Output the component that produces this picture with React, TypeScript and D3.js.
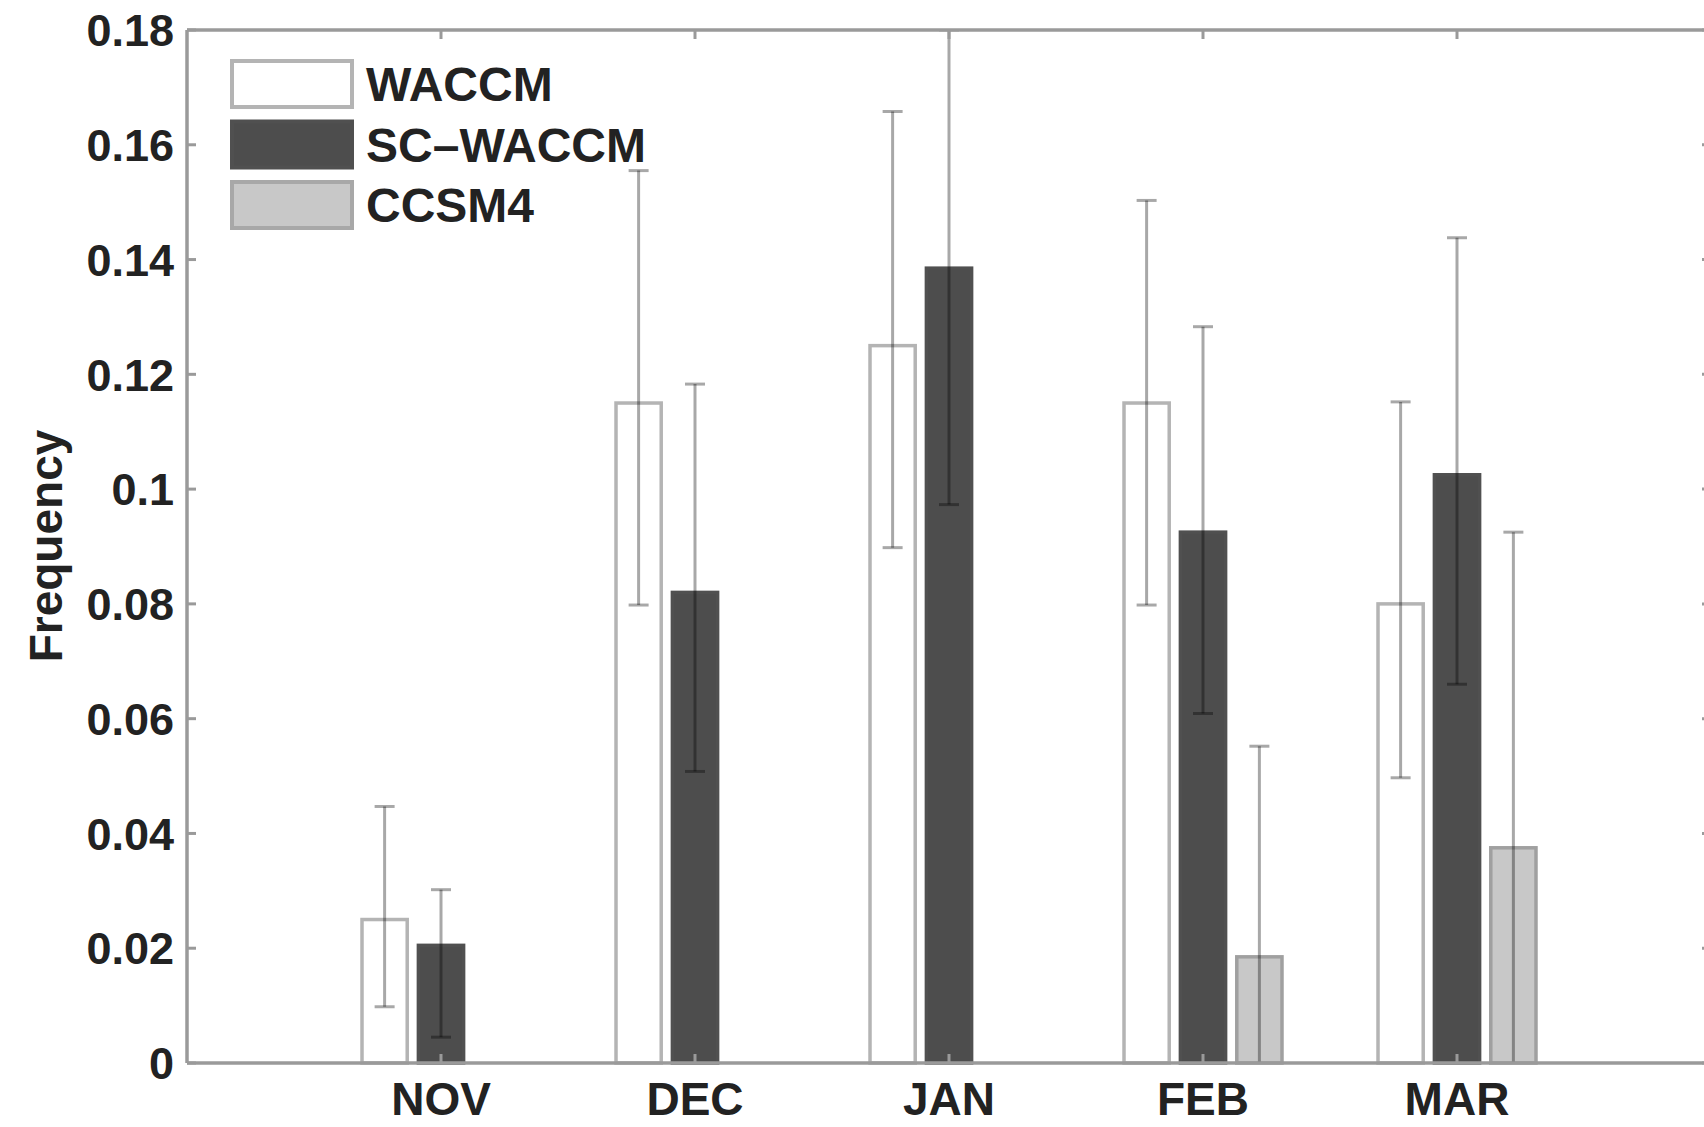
import React from "react";
import * as d3 from "d3";

const months = ["NOV", "DEC", "JAN", "FEB", "MAR"];
const seriesNames = ["WACCM", "SC\u2013WACCM", "CCSM4"];

const waccm = [0.025, 0.115, 0.125, 0.115, 0.08];
const scWaccm = [0.0205, 0.082, 0.1385, 0.0925, 0.1025];
const ccsm4 = [0, 0, 0, 0.0185, 0.0375];

const waccmLow = [0.0098, 0.0798, 0.0898, 0.0798, 0.0497];
const waccmHigh = [0.0447, 0.1555, 0.1658, 0.1503, 0.1152];
const scLow = [0.0045, 0.0508, 0.0973, 0.0609, 0.066];
const scHigh = [0.0302, 0.1183, 0.18, 0.1283, 0.1438];
const ccLow = [null, null, null, -0.018, -0.0175];
const ccHigh = [null, null, null, 0.0552, 0.0925];

const yTicks = [0, 0.02, 0.04, 0.06, 0.08, 0.1, 0.12, 0.14, 0.16, 0.18];

const W = 1704;
const H = 1127;
const left = 187;
const top = 30;
const bottom = 1063;
const right = 1711;

const fills = ["#ffffff", "#4d4d4d", "#c8c8c8"];
const strokes = ["#b4b4b4", "#505050", "#a0a0a0"];

export default function App() {
  const x = d3.scaleLinear().domain([0, 6]).range([left, right]);
  const y = d3.scaleLinear().domain([0, 0.18]).range([bottom, top]);
  const unit = x(1) - x(0);
  const slot = 0.222 * unit;
  const bw = 0.178 * unit;

  const values = [waccm, scWaccm, ccsm4];
  const lows = [waccmLow, scLow, ccLow];
  const highs = [waccmHigh, scHigh, ccHigh];
  const fmt = (v: number) => String(+v.toFixed(2));
  const font = "'Liberation Sans', Arial, Helvetica, sans-serif";
  const axisColor = "#9a9a9a";

  return (
    <svg
      width={W}
      height={H}
      style={{ position: "absolute", left: 0, top: 0, display: "block", background: "#fff" }}
      fontFamily={font}
    >
      <defs>
        <clipPath id="plot">
          <rect x={left} y={top} width={right - left} height={bottom - top} />
        </clipPath>
      </defs>
      <rect x={0} y={0} width={W} height={H} fill="#fff" />

      {/* bars */}
      {values.map((vals, s) =>
        vals.map((v, i) => {
          if (v <= 0) return null;
          const cx = x(i + 1) + (s - 1) * slot;
          return (
            <rect
              key={`b${s}-${i}`}
              x={cx - bw / 2}
              y={y(v)}
              width={bw}
              height={y(0) - y(v)}
              fill={fills[s]}
              stroke={strokes[s]}
              strokeWidth={3.5}
            />
          );
        })
      )}

      {/* error bars */}
      <g clipPath="url(#plot)" stroke="rgba(0,0,0,0.34)" strokeWidth={3}>
        {values.map((vals, s) =>
          vals.map((v, i) => {
            const lo = lows[s][i];
            const hi = highs[s][i];
            if (lo == null || hi == null) return null;
            const cx = x(i + 1) + (s - 1) * slot;
            const cap = 10;
            return (
              <g key={`e${s}-${i}`}>
                <line x1={cx} x2={cx} y1={y(lo)} y2={y(hi)} />
                <line x1={cx - cap} x2={cx + cap} y1={y(hi)} y2={y(hi)} />
                <line x1={cx - cap} x2={cx + cap} y1={y(lo)} y2={y(lo)} />
              </g>
            );
          })
        )}
      </g>

      {/* axes box */}
      <g stroke={axisColor} strokeWidth={3.5} fill="none">
        <line x1={left} x2={right} y1={top} y2={top} />
        <line x1={left} x2={right} y1={bottom} y2={bottom} />
        <line x1={left} x2={left} y1={top} y2={bottom} />
        <line x1={right} x2={right} y1={top} y2={bottom} />
      </g>

      {/* ticks */}
      <g stroke={axisColor} strokeWidth={3}>
        {yTicks.map((t) => (
          <g key={`yt${t}`}>
            <line x1={left} x2={left + 9} y1={y(t)} y2={y(t)} />
            <line x1={right - 9} x2={right} y1={y(t)} y2={y(t)} />
          </g>
        ))}
        {months.map((m, i) => (
          <g key={`xt${m}`}>
            <line x1={x(i + 1)} x2={x(i + 1)} y1={top} y2={top + 9} />
            <line x1={x(i + 1)} x2={x(i + 1)} y1={bottom - 9} y2={bottom} />
          </g>
        ))}
      </g>

      {/* y tick labels */}
      {yTicks.map((t) => (
        <text
          key={`yl${t}`}
          x={174}
          y={y(t)}
          dy="0.36em"
          textAnchor="end"
          fontSize={45}
          fontWeight="bold"
          fill="#222"
        >
          {fmt(t)}
        </text>
      ))}

      {/* x tick labels */}
      {months.map((m, i) => (
        <text
          key={`xl${m}`}
          x={x(i + 1)}
          y={1115}
          textAnchor="middle"
          fontSize={46}
          fontWeight="bold"
          fill="#222"
        >
          {m}
        </text>
      ))}

      {/* y label */}
      <text
        transform={`translate(45,546) rotate(-90)`}
        textAnchor="middle"
        dy="0.36em"
        fontSize={46}
        fontWeight="bold"
        fill="#222"
      >
        Frequency
      </text>

      {/* legend */}
      {seriesNames.map((n, s) => {
        const cy = 84 + s * 60.5;
        return (
          <g key={`lg${s}`}>
            <rect
              x={232}
              y={cy - 23}
              width={120}
              height={46}
              fill={fills[s]}
              stroke={s === 0 ? "#b4b4b4" : s === 1 ? "#505050" : "#a8a8a8"}
              strokeWidth={4}
            />
            <text
              x={366}
              y={cy}
              dy="0.36em"
              fontSize={48}
              fontWeight="bold"
              fill="#222"
            >
              {n}
            </text>
          </g>
        );
      })}
    </svg>
  );
}
